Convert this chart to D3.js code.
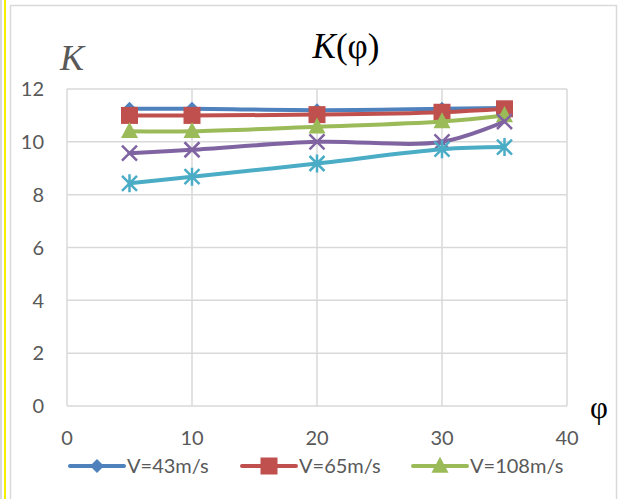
<!DOCTYPE html>
<html>
<head>
<meta charset="utf-8">
<script src="https://cdn.jsdelivr.net/npm/d3@7"></script>
<style>
  body { margin: 0; background: #fff; }
  svg { display: block; }
</style>
</head>
<body>
<svg id="chart" width="620" height="499"></svg>
<script>
// angle values on the x axis
const phi = [5, 10, 20, 30, 35];

// K values per series
const v43 = [11.25, 11.25, 11.2, 11.25, 11.28];
const v65 = [11.0, 11.0, 11.03, 11.12, 11.25];
const v108 = [10.4, 10.4, 10.57, 10.77, 11.0];
const series4 = [9.57, 9.7, 10.0, 10.0, 10.77];
const series5 = [8.43, 8.68, 9.18, 9.72, 9.8];

const xTicks = [0, 10, 20, 30, 40];
const yTicks = [0, 2, 4, 6, 8, 10, 12];

const seriesList = [
  { name: "V=43m/s", values: v43, color: "#4F81BD", marker: "diamond", legend: true },
  { name: "V=65m/s", values: v65, color: "#C0504D", marker: "square", legend: true },
  { name: "V=108m/s", values: v108, color: "#9BBB59", marker: "triangle", legend: true },
  { name: "series4", values: series4, color: "#8064A2", marker: "x", legend: false },
  { name: "series5", values: series5, color: "#4BACC6", marker: "star", legend: false }
];

const svg = d3.select("#chart");
const width = 620, height = 499;

// frame
svg.append("line").attr("x1", 1).attr("x2", 1).attr("y1", 0).attr("y2", height)
  .attr("stroke", "#d9d9d9").attr("stroke-width", 2);
svg.append("line").attr("x1", 5).attr("x2", 5).attr("y1", 0).attr("y2", height)
  .attr("stroke", "#f5f000").attr("stroke-width", 2);
svg.append("rect").attr("x", 10.5).attr("y", 5.5).attr("width", 606).attr("height", 500)
  .attr("fill", "none").attr("stroke", "#d9d9d9").attr("stroke-width", 1.5);

const x = d3.scaleLinear().domain([0, 40]).range([67, 567]);
const y = d3.scaleLinear().domain([0, 12]).range([406, 89]);

// gridlines
svg.append("g")
  .selectAll("line.h")
  .data(yTicks)
  .join("line")
  .attr("x1", x(0)).attr("x2", x(40))
  .attr("y1", d => y(d)).attr("y2", d => y(d))
  .attr("stroke", "#d9d9d9").attr("stroke-width", 1.5);

svg.append("g")
  .selectAll("line.v")
  .data(xTicks)
  .join("line")
  .attr("x1", d => x(d)).attr("x2", d => x(d))
  .attr("y1", y(0)).attr("y2", y(12))
  .attr("stroke", "#d9d9d9").attr("stroke-width", 1.5);

// tick labels
svg.append("g")
  .selectAll("text")
  .data(yTicks)
  .join("text")
  .attr("x", 44)
  .attr("y", d => y(d))
  .attr("dy", "0.36em")
  .attr("text-anchor", "end")
  .style("font-family", "Lato, sans-serif")
  .style("font-size", "20px")
  .style("fill", "#595959")
  .text(d => d);

svg.append("g")
  .selectAll("text")
  .data(xTicks)
  .join("text")
  .attr("x", d => x(d))
  .attr("y", 445)
  .attr("text-anchor", "middle")
  .style("font-family", "Lato, sans-serif")
  .style("font-size", "20px")
  .style("fill", "#595959")
  .text(d => d);

// titles
const title = svg.append("text")
  .attr("x", 346)
  .attr("y", 58)
  .attr("text-anchor", "middle")
  .style("font-family", "'Liberation Serif', 'Times New Roman', serif")
  .style("font-size", "35px")
  .style("fill", "#000");
title.append("tspan").style("font-style", "italic").text("K");
title.append("tspan").text("(φ)");

svg.append("text")
  .attr("x", 60)
  .attr("y", 70)
  .style("font-family", "'Liberation Serif', 'Times New Roman', serif")
  .style("font-style", "italic")
  .style("font-size", "36px")
  .style("fill", "#595959")
  .text("K");

svg.append("text")
  .attr("x", 590)
  .attr("y", 418)
  .style("font-family", "'Liberation Serif', 'Times New Roman', serif")
  .style("font-size", "31px")
  .style("fill", "#000")
  .text("φ");

// markers
function drawMarker(g, type, cx, cy, color, s) {
  if (type === "diamond") {
    g.append("path")
      .attr("d", `M${cx},${cy - s}L${cx + s},${cy}L${cx},${cy + s}L${cx - s},${cy}Z`)
      .attr("fill", color);
  } else if (type === "square") {
    g.append("rect")
      .attr("x", cx - s).attr("y", cy - s)
      .attr("width", 2 * s).attr("height", 2 * s)
      .attr("fill", color);
  } else if (type === "triangle") {
    g.append("path")
      .attr("d", `M${cx},${cy - s * 1.1}L${cx + s},${cy + s * 0.8}L${cx - s},${cy + s * 0.8}Z`)
      .attr("fill", color);
  } else if (type === "x") {
    g.append("path")
      .attr("d", `M${cx - s},${cy - s}L${cx + s},${cy + s}M${cx - s},${cy + s}L${cx + s},${cy - s}`)
      .attr("stroke", color).attr("stroke-width", 2.5);
  } else if (type === "star") {
    g.append("path")
      .attr("d", `M${cx - s},${cy - s}L${cx + s},${cy + s}M${cx - s},${cy + s}L${cx + s},${cy - s}M${cx},${cy - s * 1.2}L${cx},${cy + s * 1.2}`)
      .attr("stroke", color).attr("stroke-width", 2.5);
  }
}

const markerSize = { diamond: 7, square: 8.5, triangle: 8.5, x: 7.5, star: 7.5 };

const line = d3.line()
  .x((d, i) => x(phi[i]))
  .y(d => y(d))
  .curve(d3.curveCatmullRom.alpha(0.5));

seriesList.forEach(s => {
  const g = svg.append("g");
  g.append("path")
    .datum(s.values)
    .attr("d", line)
    .attr("fill", "none")
    .attr("stroke", s.color)
    .attr("stroke-width", 4)
    .attr("stroke-linecap", "round");
  s.values.forEach((v, i) => drawMarker(g, s.marker, x(phi[i]), y(v), s.color, markerSize[s.marker]));
});

// legend
const legendItems = seriesList.filter(s => s.legend);
const legendX = [70, 242, 413];
legendItems.forEach((s, i) => {
  const g = svg.append("g");
  const lx = legendX[i], ly = 466;
  g.append("line")
    .attr("x1", lx).attr("x2", lx + 54)
    .attr("y1", ly).attr("y2", ly)
    .attr("stroke", s.color).attr("stroke-width", 4)
    .attr("stroke-linecap", "round");
  drawMarker(g, s.marker, lx + 27, ly, s.color, markerSize[s.marker]);
  g.append("text")
    .attr("x", lx + 57)
    .attr("y", ly)
    .attr("dy", "0.36em")
    .style("font-family", "Lato, sans-serif")
    .style("font-size", "20px")
    .style("fill", "#595959")
    .text(s.name);
});
</script>
</body>
</html>
